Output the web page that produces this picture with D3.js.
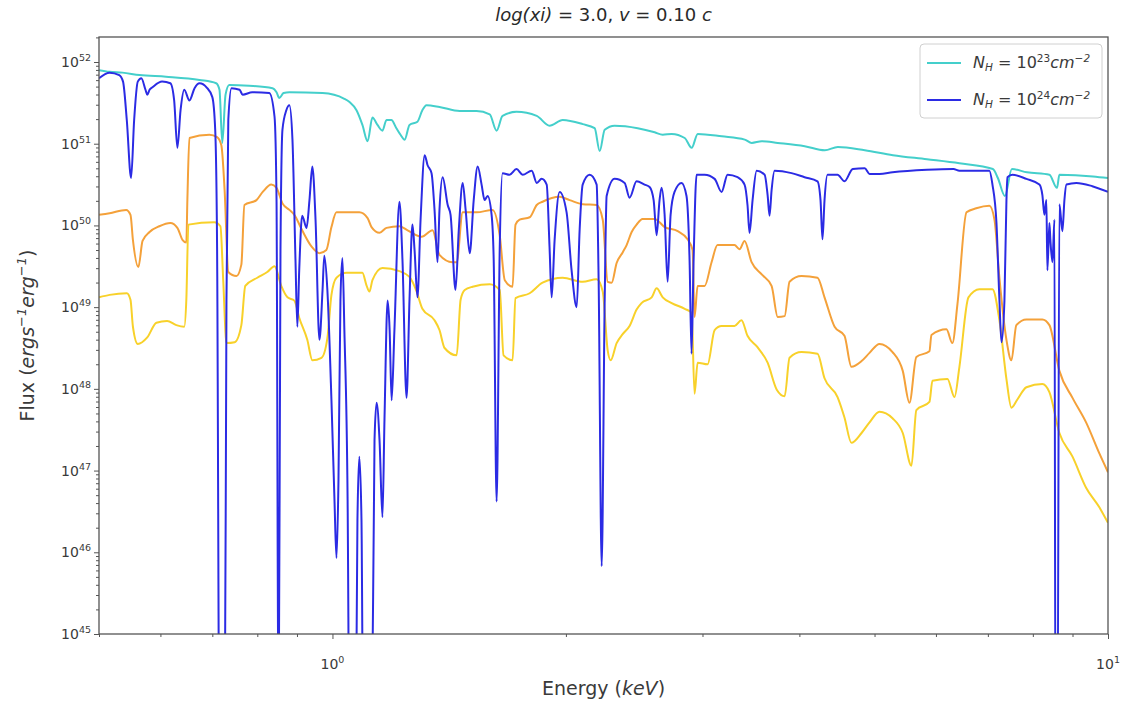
<!DOCTYPE html>
<html>
<head>
<meta charset="utf-8">
<script src="https://cdn.jsdelivr.net/npm/d3@7"></script>
<style>
  body { margin: 0; background: #fff; }
  svg { display: block; font-family: "DejaVu Sans", sans-serif; }
</style>
</head>
<body>
<svg id="chart" width="1124" height="701"></svg>
<script>
// Spectra: [energy (keV), log10 flux (erg s^-1 erg^-1)]
const spectrumNH23 = [
  [0.5,51.90],[0.516,51.88],[0.536,51.87],[0.564,51.84],[0.610,51.82],[0.674,51.78],[0.708,51.74],[0.715,51.66],
  [0.721,51.01],[0.728,51.60],[0.736,51.72],[0.781,51.71],[0.837,51.68],[0.847,51.63],[0.854,51.56],[0.865,51.62],
  [0.880,51.63],[0.971,51.62],[1.036,51.55],[1.052,51.51],[1.074,51.41],[1.093,51.23],[1.110,51.03],[1.126,51.32],
  [1.143,51.23],[1.160,51.16],[1.174,51.29],[1.191,51.29],[1.209,51.19],[1.224,51.11],[1.239,51.05],[1.257,51.23],
  [1.287,51.27],[1.306,51.41],[1.322,51.47],[1.374,51.45],[1.459,51.40],[1.534,51.40],[1.595,51.36],[1.628,51.16],
  [1.657,51.34],[1.727,51.39],[1.834,51.34],[1.905,51.22],[1.981,51.29],[2.102,51.24],[2.178,51.19],[2.211,50.91],
  [2.244,51.17],[2.311,51.22],[2.475,51.19],[2.603,51.14],[2.666,51.11],[2.738,51.12],[2.846,51.07],[2.905,50.95],
  [2.958,51.12],[3.177,51.09],[3.401,51.05],[3.472,51.01],[3.577,51.03],[3.752,51.01],[4.064,50.97],[4.313,50.92],
  [4.484,50.96],[4.858,50.92],[5.280,50.86],[5.842,50.81],[6.433,50.76],[7.105,50.69],[7.211,50.58],[7.363,50.36],
  [7.517,50.69],[7.862,50.65],[8.403,50.62],[8.595,50.46],[8.656,50.62],[9.564,50.60],[10,50.58]
];

const spectrumNH24 = [
  [0.5,51.80],[0.516,51.87],[0.531,51.84],[0.537,51.76],[0.543,51.29],[0.550,50.58],[0.555,51.29],[0.561,51.76],
  [0.567,51.80],[0.574,51.66],[0.577,51.60],[0.581,51.66],[0.586,51.69],[0.603,51.76],[0.618,51.74],[0.625,51.53],
  [0.631,50.95],[0.637,51.41],[0.644,51.66],[0.654,51.53],[0.664,51.68],[0.674,51.74],[0.688,51.69],[0.700,51.57],
  [0.706,51.17],[0.710,49.70],[0.715,43.5],[0.726,43.5],[0.730,49.09],[0.734,51.29],[0.741,51.68],[0.759,51.66],
  [0.766,51.60],[0.788,51.63],[0.829,51.62],[0.842,51.33],[0.847,50.31],[0.852,43.5],[0.857,49.70],[0.862,51.17],
  [0.872,51.41],[0.880,51.47],[0.888,51.05],[0.896,49.58],[0.901,48.76],[0.906,49.45],[0.914,50.12],[0.926,49.97],
  [0.934,50.31],[0.942,50.72],[0.951,50.07],[0.962,48.60],[0.971,49.21],[0.976,49.63],[0.985,49.21],[0.997,47.86],
  [1.006,46.64],[1.012,45.93],[1.018,46.88],[1.024,49.09],[1.030,49.60],[1.036,48.72],[1.046,46.64],[1.052,43.5],
  [1.071,43.5],[1.077,46.39],[1.083,47.17],[1.090,46.39],[1.096,43.5],[1.123,43.5],[1.133,47.37],[1.140,47.83],
  [1.150,47.37],[1.160,46.43],[1.167,47.62],[1.178,49.08],[1.185,48.72],[1.192,47.86],[1.202,48.72],[1.220,50.29],
  [1.231,49.58],[1.246,47.89],[1.257,49.09],[1.268,50.01],[1.276,49.70],[1.287,49.12],[1.299,50.07],[1.315,50.86],
  [1.326,50.74],[1.342,50.64],[1.354,50.19],[1.366,49.55],[1.374,50.19],[1.387,50.59],[1.408,50.25],[1.420,50.13],
  [1.441,49.21],[1.455,49.94],[1.472,50.52],[1.485,50.19],[1.503,49.66],[1.521,50.31],[1.539,50.72],[1.557,50.50],
  [1.571,50.31],[1.585,50.36],[1.604,50.13],[1.614,49.58],[1.628,46.62],[1.643,49.70],[1.657,50.64],[1.692,50.62],
  [1.727,50.69],[1.759,50.62],[1.807,50.67],[1.834,50.52],[1.861,50.57],[1.889,50.50],[1.905,49.74],[1.917,49.12],
  [1.934,49.82],[1.963,50.41],[2.004,50.16],[2.034,49.45],[2.065,49.00],[2.083,49.94],[2.102,50.50],[2.146,50.62],
  [2.191,50.50],[2.204,49.33],[2.224,45.83],[2.244,49.09],[2.257,50.36],[2.311,50.57],[2.381,50.52],[2.416,50.34],
  [2.467,50.54],[2.526,50.50],[2.564,50.47],[2.595,50.31],[2.618,49.88],[2.641,50.31],[2.657,50.46],[2.681,50.13],
  [2.705,49.31],[2.729,50.13],[2.761,50.41],[2.819,50.52],[2.861,50.36],[2.887,49.58],[2.904,48.43],[2.922,49.58],
  [2.948,50.62],[3.019,50.62],[3.110,50.57],[3.175,50.41],[3.232,50.62],[3.329,50.59],[3.399,50.50],[3.429,50.25],
  [3.450,49.91],[3.481,50.31],[3.523,50.67],[3.608,50.62],[3.640,50.37],[3.661,50.12],[3.683,50.43],[3.716,50.67],
  [3.908,50.64],[4.062,50.59],[4.221,50.54],[4.259,50.31],[4.284,49.83],[4.310,50.31],[4.348,50.62],[4.480,50.62],
  [4.573,50.54],[4.687,50.69],[4.856,50.70],[4.926,50.63],[5.074,50.63],[5.274,50.65],[5.842,50.68],[6.320,50.69],
  [6.433,50.67],[7.032,50.67],[7.096,50.50],[7.181,50.03],[7.244,49.09],[7.288,48.57],[7.353,49.08],[7.397,50.31],
  [7.419,50.59],[7.529,50.62],[7.849,50.57],[8.157,50.50],[8.230,50.37],[8.279,50.13],[8.328,50.31],[8.353,49.45],
  [8.403,50.03],[8.428,49.82],[8.479,49.55],[8.530,50.07],[8.556,43.5],[8.607,43.5],[8.656,50.26],[8.734,49.93],
  [8.786,50.31],[8.839,50.50],[9.104,50.52],[9.545,50.48],[10,50.41]
];

const spectrumOrange = [
  [0.5,50.13],[0.516,50.15],[0.542,50.19],[0.549,50.13],[0.553,49.82],[0.562,49.49],[0.569,49.81],[0.581,49.92],
  [0.598,49.99],[0.618,50.03],[0.631,49.97],[0.641,49.82],[0.648,49.79],[0.650,50.31],[0.654,51.07],[0.694,51.11],
  [0.710,51.08],[0.719,50.98],[0.726,50.43],[0.734,49.43],[0.752,49.38],[0.763,49.52],[0.770,50.25],[0.798,50.31],
  [0.813,50.41],[0.834,50.50],[0.847,50.46],[0.862,50.27],[0.880,50.19],[0.893,50.13],[0.914,49.94],[0.940,49.74],
  [0.962,49.66],[0.982,49.70],[0.997,49.98],[1.012,50.16],[1.083,50.16],[1.110,50.09],[1.123,49.98],[1.150,49.91],
  [1.174,49.97],[1.220,49.99],[1.250,49.94],[1.303,49.86],[1.346,49.94],[1.374,49.64],[1.428,49.55],[1.446,49.55],
  [1.472,50.16],[1.534,50.16],[1.609,50.19],[1.643,49.88],[1.668,49.33],[1.707,49.25],[1.722,50.01],[1.743,50.07],
  [1.796,50.10],[1.834,50.25],[1.866,50.29],[1.963,50.35],[2.022,50.31],[2.102,50.26],[2.191,50.25],[2.231,50.07],
  [2.264,49.31],[2.291,49.30],[2.325,49.54],[2.367,49.67],[2.395,49.76],[2.431,49.92],[2.467,50.01],[2.511,50.08],
  [2.603,50.08],[2.681,49.98],[2.787,49.93],[2.870,49.83],[2.913,49.70],[2.930,48.88],[2.957,49.26],[3.019,49.26],
  [3.082,49.55],[3.137,49.76],[3.299,49.76],[3.349,49.71],[3.399,49.81],[3.471,49.55],[3.577,49.40],[3.683,49.26],
  [3.751,48.88],[3.829,48.89],[3.885,49.31],[4.026,49.38],[4.221,49.36],[4.310,49.12],[4.441,48.76],[4.573,48.65],
  [4.668,48.27],[4.811,48.34],[4.926,48.44],[5.074,48.55],[5.274,48.45],[5.437,48.22],[5.546,47.83],[5.661,48.39],
  [5.885,48.46],[5.920,48.66],[6.190,48.73],[6.300,48.56],[6.396,49.04],[6.570,50.16],[6.763,50.21],[7.032,50.24],
  [7.139,50.07],[7.244,49.36],[7.397,48.60],[7.507,48.35],[7.618,48.78],[7.849,48.85],[8.230,48.85],[8.403,48.78],
  [8.656,48.22],[9.000,47.89],[9.370,47.59],[9.747,47.21],[10,46.98]
];

const spectrumGold = [
  [0.5,49.12],[0.516,49.15],[0.543,49.17],[0.549,49.09],[0.553,48.76],[0.561,48.55],[0.577,48.63],[0.593,48.81],
  [0.612,48.83],[0.629,48.78],[0.644,48.76],[0.648,49.09],[0.652,50.01],[0.704,50.04],[0.717,49.99],[0.723,49.33],
  [0.730,48.56],[0.748,48.57],[0.763,48.78],[0.772,49.26],[0.800,49.36],[0.824,49.43],[0.842,49.50],[0.859,49.26],
  [0.875,49.12],[0.893,49.08],[0.906,48.87],[0.928,48.60],[0.942,48.35],[0.968,48.38],[0.985,48.62],[0.997,49.15],
  [1.012,49.36],[1.043,49.42],[1.093,49.42],[1.106,49.27],[1.116,49.19],[1.126,49.33],[1.160,49.48],[1.220,49.44],
  [1.257,49.37],[1.284,49.19],[1.306,48.98],[1.354,48.84],[1.374,48.72],[1.395,48.50],[1.446,48.41],[1.463,49.09],
  [1.481,49.21],[1.516,49.25],[1.595,49.28],[1.643,49.21],[1.662,48.41],[1.707,48.35],[1.722,49.11],[1.796,49.17],
  [1.866,49.30],[1.981,49.36],[2.102,49.31],[2.191,49.34],[2.231,49.19],[2.264,48.47],[2.284,48.35],[2.325,48.56],
  [2.367,48.67],[2.416,48.77],[2.467,48.97],[2.503,49.05],[2.580,49.12],[2.618,49.23],[2.666,49.12],[2.738,49.05],
  [2.846,48.98],[2.905,48.93],[2.930,47.94],[2.957,48.32],[3.046,48.30],[3.110,48.72],[3.175,48.77],[3.299,48.77],
  [3.368,48.84],[3.429,48.65],[3.532,48.51],[3.640,48.32],[3.740,47.99],[3.829,47.91],[3.885,48.38],[4.026,48.45],
  [4.221,48.43],[4.310,48.13],[4.480,47.90],[4.573,47.65],[4.668,47.34],[4.811,47.46],[4.926,47.59],[5.074,47.72],
  [5.274,47.64],[5.437,47.46],[5.579,47.06],[5.661,47.74],[5.885,47.84],[5.938,48.10],[6.208,48.12],[6.340,47.90],
  [6.433,48.27],[6.608,49.12],[6.827,49.22],[7.096,49.22],[7.244,48.84],[7.397,48.12],[7.507,47.77],[7.641,47.87],
  [7.849,48.02],[8.230,48.06],[8.403,47.96],[8.656,47.46],[9.000,47.17],[9.370,46.79],[9.747,46.55],[10,46.36]
];

// Axis ticks
const xMajorTicks = [1, 10];
const xMajorExponents = ["0", "1"];
const xMinorTicks = [0.5, 0.6, 0.7, 0.8, 0.9, 2, 3, 4, 5, 6, 7, 8, 9];
const yMajorExponents = [45, 46, 47, 48, 49, 50, 51, 52];
const legendLabels = [{ exp: "23", color: "#44cfcb" }, { exp: "24", color: "#2b2be4" }];

const plot = { left: 99, right: 1108, top: 37, bottom: 634 };
const yTopExponent = 52.306;

const svg = d3.select("#chart");

const x = d3.scaleLog().domain([0.5, 10]).range([plot.left, plot.right]);
const y = d3.scaleLog().domain([1e45, Math.pow(10, yTopExponent)]).range([plot.bottom, plot.top]);

svg.append("defs").append("clipPath").attr("id", "plot-clip")
  .append("rect")
  .attr("x", plot.left).attr("y", plot.top)
  .attr("width", plot.right - plot.left).attr("height", plot.bottom - plot.top);

const line = d3.line()
  .x(d => x(d[0]))
  .y(d => y(Math.pow(10, d[1])))
  .curve(d3.curveMonotoneX);

const series = [
  { data: spectrumOrange, color: "#f4a13a" },
  { data: spectrumGold, color: "#f8d12a" },
  { data: spectrumNH23, color: legendLabels[0].color },
  { data: spectrumNH24, color: legendLabels[1].color }
];

const lines = svg.append("g").attr("clip-path", "url(#plot-clip)");
lines.selectAll("path").data(series).join("path")
  .attr("d", d => line(d.data))
  .attr("fill", "none")
  .attr("stroke", d => d.color)
  .attr("stroke-width", 2)
  .attr("stroke-linejoin", "round");

// Axes
const axisColor = "#555";
const yMajor = yMajorExponents.map(e => Math.pow(10, e));
const yMinor = [];
yMajorExponents.forEach(e => {
  for (let m = 2; m <= 9; m++) {
    const v = m * Math.pow(10, e);
    if (Math.log10(v) <= yTopExponent) yMinor.push(v);
  }
});

function styleAxis(g) {
  g.select(".domain").remove();
  g.selectAll(".tick line").attr("stroke", axisColor).attr("stroke-width", 1);
}

svg.append("g").attr("transform", `translate(${plot.left},0)`)
  .call(d3.axisLeft(y).tickValues(yMajor).tickSize(5).tickFormat(() => ""))
  .call(styleAxis);
svg.append("g").attr("transform", `translate(${plot.left},0)`)
  .call(d3.axisLeft(y).tickValues(yMinor).tickSize(3).tickFormat(() => ""))
  .call(styleAxis);
svg.append("g").attr("transform", `translate(0,${plot.bottom})`)
  .call(d3.axisBottom(x).tickValues(xMajorTicks).tickSize(5).tickFormat(() => ""))
  .call(styleAxis);
svg.append("g").attr("transform", `translate(0,${plot.bottom})`)
  .call(d3.axisBottom(x).tickValues(xMinorTicks).tickSize(3).tickFormat(() => ""))
  .call(styleAxis);

// Frame
svg.append("rect")
  .attr("x", plot.left).attr("y", plot.top)
  .attr("width", plot.right - plot.left).attr("height", plot.bottom - plot.top)
  .attr("fill", "none").attr("stroke", axisColor).attr("stroke-width", 1.3);

// Tick labels: powers of ten
const labelColor = "#3a3a3a";
yMajorExponents.forEach(e => {
  const t = svg.append("text")
    .attr("x", plot.left - 8).attr("y", y(Math.pow(10, e)) + 5)
    .attr("text-anchor", "end").attr("fill", labelColor).attr("font-size", 14);
  t.append("tspan").text("10");
  t.append("tspan").attr("dy", -6).attr("font-size", 9.5).text(e);
});
xMajorTicks.forEach((v, i) => {
  const t = svg.append("text")
    .attr("x", x(v)).attr("y", 669)
    .attr("text-anchor", "middle").attr("fill", labelColor).attr("font-size", 14);
  t.append("tspan").text("10");
  t.append("tspan").attr("dy", -6).attr("font-size", 9.5).text(xMajorExponents[i]);
});

// Title
const cx = (plot.left + plot.right) / 2;
const title = svg.append("text")
  .attr("x", cx).attr("y", 21).attr("text-anchor", "middle")
  .attr("fill", "#2a2a2a").attr("font-size", 18);
title.append("tspan").attr("font-style", "italic").text("log(xi)");
title.append("tspan").text(" = 3.0, ");
title.append("tspan").attr("font-style", "italic").text("v");
title.append("tspan").text(" = 0.10 ");
title.append("tspan").attr("font-style", "italic").text("c");

// Axis labels
const xLabel = svg.append("text")
  .attr("x", cx).attr("y", 695).attr("text-anchor", "middle")
  .attr("fill", "#3a3a3a").attr("font-size", 19);
xLabel.append("tspan").text("Energy (");
xLabel.append("tspan").attr("font-style", "italic").text("keV");
xLabel.append("tspan").text(")");

const yLabel = svg.append("text")
  .attr("transform", `translate(34,${(plot.top + plot.bottom) / 2}) rotate(-90)`)
  .attr("text-anchor", "middle").attr("fill", "#3a3a3a").attr("font-size", 19);
yLabel.append("tspan").text("Flux (");
yLabel.append("tspan").attr("font-style", "italic").text("ergs");
yLabel.append("tspan").attr("font-style", "italic").attr("font-size", 13).attr("dy", -8).text("−1");
yLabel.append("tspan").attr("font-style", "italic").attr("dy", 8).text("erg");
yLabel.append("tspan").attr("font-style", "italic").attr("font-size", 13).attr("dy", -8).text("−1");
yLabel.append("tspan").attr("dy", 8).text(")");

// Legend
const legend = svg.append("g");
legend.append("rect")
  .attr("x", 920).attr("y", 44).attr("width", 182).attr("height", 74).attr("rx", 4)
  .attr("fill", "#fff").attr("fill-opacity", 0.85)
  .attr("stroke", "#d0d0d0").attr("stroke-width", 1);
legendLabels.forEach((d, i) => {
  const ly = 63 + i * 37;
  legend.append("line")
    .attr("x1", 927).attr("x2", 961).attr("y1", ly).attr("y2", ly)
    .attr("stroke", d.color).attr("stroke-width", 2);
  const t = legend.append("text")
    .attr("x", 973).attr("y", ly + 5).attr("fill", "#3a3a3a").attr("font-size", 16);
  t.append("tspan").attr("font-style", "italic").text("N");
  t.append("tspan").attr("font-style", "italic").attr("font-size", 10.5).attr("dy", 3).text("H");
  t.append("tspan").attr("dy", -3).text(" = 10");
  t.append("tspan").attr("font-size", 10.5).attr("dy", -6).text(d.exp);
  t.append("tspan").attr("font-style", "italic").attr("dy", 6).text("cm");
  t.append("tspan").attr("font-style", "italic").attr("font-size", 10.5).attr("dy", -6).text("−2");
});
</script>
</body>
</html>
